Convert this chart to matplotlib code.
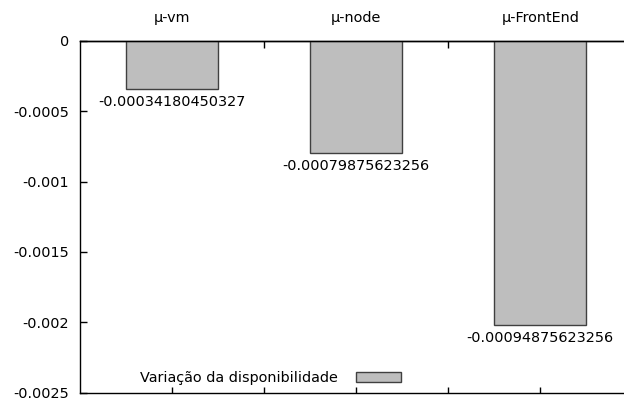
import matplotlib
matplotlib.use("Agg")
import matplotlib.pyplot as plt
from matplotlib.ticker import FixedLocator

# Data
categories = ["μ-vm", "μ-node", "μ-FrontEnd"]
positions = [1, 3, 5]
values = [-0.00034180450327, -0.00079875623256, -0.00202]
bar_labels = ["-0.00034180450327", "-0.00079875623256", "-0.00094875623256"]
yticks = [0, -0.0005, -0.001, -0.0015, -0.002, -0.0025]
ytick_labels = ["0", "-0.0005", "-0.001", "-0.0015", "-0.002", "-0.0025"]
legend_label = "Variação da disponibilidade"

plt.rcParams['font.family'] = ['DejaVu Sans']
FS = 10.4

fig = plt.figure(figsize=(6.24, 3.99), dpi=100)
W, H = 624, 399
left, right, top, bottom = 80.3, 624, 40.7, 392.7
ax = fig.add_axes([left / W, 1 - bottom / H, (right - left) / W, (bottom - top) / H])

bars = ax.bar(positions, values, width=1.0, color="#bebebe", edgecolor="#404040",
              linewidth=1.0, label=legend_label)

for x, v, lab in zip(positions, values, bar_labels):
    ax.annotate(lab, xy=(x, v), xytext=(0, -9.5), textcoords="offset points",
                ha="center", va="center", fontsize=FS, color="black")

ax.set_xlim(0, (right - left) / 92.0)
ax.set_ylim(-0.0025, 0)

ax.set_yticks(yticks)
ax.set_yticklabels(ytick_labels, fontsize=FS)
ax.xaxis.set_major_locator(FixedLocator([1, 2, 3, 4, 5]))
ax.set_xticklabels([])
ax.tick_params(axis="y", direction="in", length=5, width=1, pad=8, left=True, right=False)
ax.tick_params(axis="x", direction="in", length=4.5, width=1, bottom=True, top=False)

# top axis with tick marks at 2 and 4, labels above bars
sec = ax.secondary_xaxis("top")
sec.xaxis.set_major_locator(FixedLocator([2, 4]))
sec.set_xticklabels([])
sec.tick_params(axis="x", direction="in", length=5, width=1)
sec.spines["top"].set_linewidth(1)

for x, c in zip(positions, categories):
    ax.annotate(c, xy=(x, 0), xytext=(0, 16.5), textcoords="offset points",
                ha="center", va="center", fontsize=FS, color="black", annotation_clip=False)

ax.spines["right"].set_visible(False)
for s in ["left", "bottom", "top"]:
    ax.spines[s].set_linewidth(1)
    ax.spines[s].set_color("black")

leg = ax.legend(loc="center right", bbox_to_anchor=(401 / W, 1 - 377.8 / H),
                bbox_transform=fig.transFigure, frameon=False, markerfirst=False,
                fontsize=FS, handlelength=3.1, handleheight=0.65, handletextpad=1.3,
                borderpad=0, borderaxespad=0)

fig.savefig("out.png", dpi=100)
